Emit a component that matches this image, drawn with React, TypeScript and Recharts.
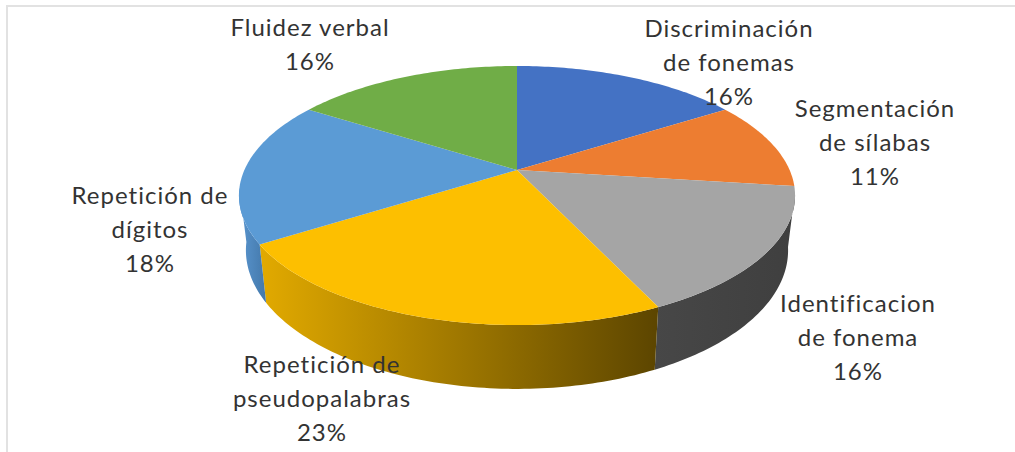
import { Pie, PieChart } from "recharts";

const categories = [
  ["Discriminación", "de fonemas"],
  ["Segmentación", "de sílabas"],
  ["Identificacion", "de fonema"],
  ["Repetición de", "pseudopalabras"],
  ["Repetición de", "dígitos"],
  ["Fluidez verbal"],
];
const shares = [16, 11, 16, 23, 18, 16];
const faceColors = ["#4472c4", "#ed7d31", "#a5a5a5", "#fdbf00", "#5b9bd5", "#70ad47"];
const wallStops = [
  ["#2f5597", "#2f5597"],
  ["#a85a22", "#a85a22"],
  ["#474747", "#3f3f3f"],
  ["#e2aa00", "#5c4500"],
  ["#5a96d0", "#4378aa"],
  ["#4f7a32", "#4f7a32"],
];

// where each label block sits: centre x and baseline of the first line
const labelSpots = [
  [729, 37],
  [875, 117],
  [858, 312],
  [322, 373],
  [150, 204],
  [310, 36],
];

const data = shares.map((value, i) => ({ name: categories[i].join(" "), value, fill: faceColors[i] }));

// perspective of the tilted disc
const TILT = 0.197;
const SQUASH = 124.5;
const WALL_FROM = 100;
const WALL_TO = 262;

function rimPoint(cx: number, cy: number, r: number, clockAngle: number, lower = false) {
  const rad = (clockAngle * Math.PI) / 180;
  const nx = Math.sin(rad);
  const ny = -Math.cos(rad);
  const depth = 1 - TILT * ny;
  const x = (r * nx) / depth;
  const y = (SQUASH * ny) / depth;
  if (!lower) return [cx + x, cy + y];
  return [cx + x * 0.975, cy + y * 1.07 + 53];
}

function arc(cx: number, cy: number, r: number, from: number, to: number, lower = false) {
  const pts: string[] = [];
  const steps = Math.max(2, Math.ceil(Math.abs(to - from)));
  for (let i = 0; i <= steps; i++) {
    const [x, y] = rimPoint(cx, cy, r, from + ((to - from) * i) / steps, lower);
    pts.push(`${x.toFixed(2)} ${y.toFixed(2)}`);
  }
  return pts;
}

function FaceShape(props: any) {
  const { cx, cy, outerRadius, startAngle, endAngle, fill } = props;
  const pts = arc(cx, cy, outerRadius, 90 - startAngle, 90 - endAngle);
  return <path d={`M${cx} ${cy}L${pts.join("L")}Z`} fill={fill} />;
}

function WallShape(props: any) {
  const { cx, cy, outerRadius, startAngle, endAngle, index } = props;
  const from = Math.max(90 - startAngle, WALL_FROM);
  const to = Math.min(90 - endAngle, WALL_TO);
  if (to <= from) return null;
  const top = arc(cx, cy, outerRadius, from, to);
  const bottom = arc(cx, cy, outerRadius, to, from, true);
  const id = `wall-${index}`;
  return (
    <g>
      <defs>
        <linearGradient id={id} x1="0" y1="0" x2="1" y2="0">
          <stop offset="0" stopColor={wallStops[index][0]} />
          <stop offset="1" stopColor={wallStops[index][1]} />
        </linearGradient>
      </defs>
      <path d={`M${top.join("L")}L${bottom.join("L")}Z`} fill={`url(#${id})`} />
    </g>
  );
}

function renderLabel(props: any) {
  const i = props.index;
  const [x, y] = labelSpots[i];
  const lines = [...categories[i], `${shares[i]}%`];
  return (
    <text
      key={i}
      x={x}
      y={y}
      textAnchor="middle"
      fill="#333333"
      fontFamily="Lato, 'Open Sans', sans-serif"
      fontSize={24}
      letterSpacing={1}
    >
      {lines.map((line, n) => (
        <tspan key={n} x={x} y={y + n * 33.8}>
          {line}
        </tspan>
      ))}
    </text>
  );
}

export default function App() {
  return (
    <div style={{ position: "absolute", left: 0, top: 0, width: 1015, height: 452, overflow: "hidden", background: "#fff" }}>
      <div style={{ position: "absolute", left: 6, top: 5, right: 0, bottom: 0, borderLeft: "2px solid #e2e2e2", borderTop: "2px solid #e2e2e2" }} />
      <div style={{ position: "absolute", left: 0, top: 0 }}>
        <PieChart width={1015} height={452} margin={{ top: 0, right: 0, bottom: 0, left: 0 }}>
          <Pie
            data={data}
            dataKey="value"
            cx={517}
            cy={170}
            outerRadius={272.6}
            startAngle={90}
            endAngle={-270}
            stroke="none"
            shape={WallShape}
            label={false}
            labelLine={false}
            isAnimationActive={false}
          />
          <Pie
            data={data}
            dataKey="value"
            cx={517}
            cy={170}
            outerRadius={272.6}
            startAngle={90}
            endAngle={-270}
            stroke="none"
            shape={FaceShape}
            label={renderLabel}
            labelLine={false}
            isAnimationActive={false}
          />
        </PieChart>
      </div>
    </div>
  );
}
